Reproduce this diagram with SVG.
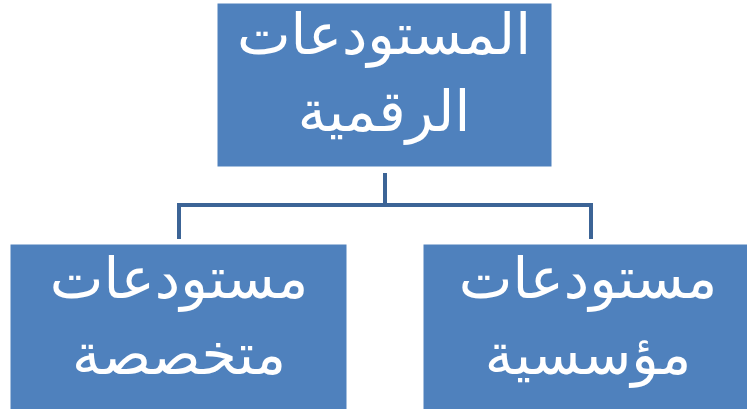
<svg xmlns="http://www.w3.org/2000/svg" width="747" height="409" viewBox="0 0 747 409">
<style>
.box{fill:#4F81BD;stroke:#ffffff;stroke-width:1}
.t{fill:#ffffff;font-family:"DejaVu Sans","Liberation Sans",sans-serif;font-size:57px;text-anchor:middle;direction:rtl}
.c{fill:none;stroke:#3C6496;stroke-width:4}
</style>
<rect width="747" height="409" fill="#ffffff"/>
<g id="connectors">
<path class="c" d="M385 173 V205 M179 239 V205 H591 V239"/>
</g>
<g id="root">
<rect class="box" x="217" y="3" width="335" height="164"/>
<text class="t" x="384" y="54">المستودعات</text>
<text class="t" x="384" y="131">الرقمية</text>
</g>
<g id="specialized">
<rect class="box" x="10" y="244" width="337" height="170"/>
<text class="t" x="179" y="298">مستودعات</text>
<text class="t" x="179" y="374">متخصصة</text>
</g>
<g id="institutional">
<rect class="box" x="423" y="244" width="330" height="170"/>
<text class="t" x="588" y="298">مستودعات</text>
<text class="t" x="588" y="374">مؤسسية</text>
</g>
</svg>
